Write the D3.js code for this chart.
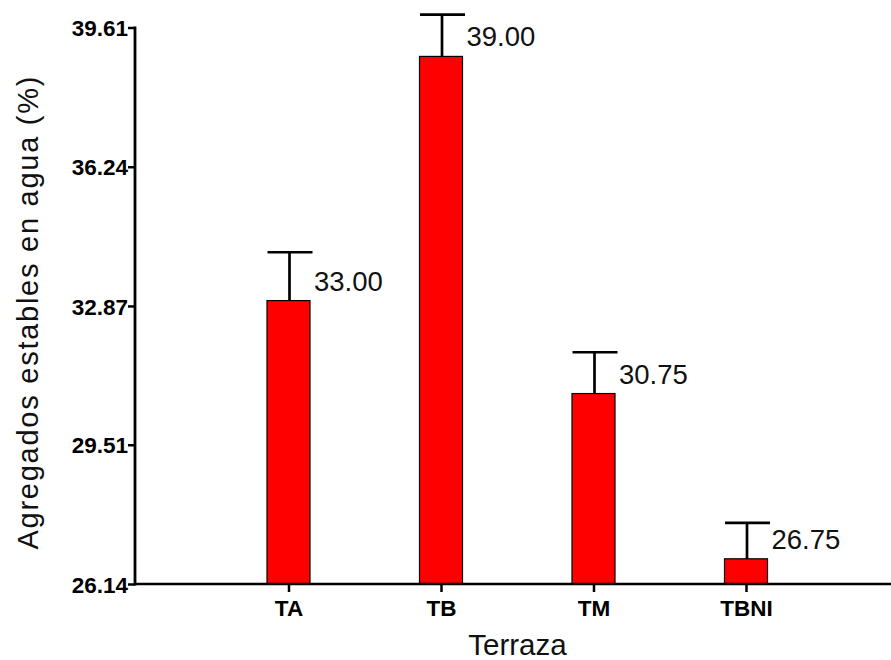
<!DOCTYPE html>
<html>
<head>
<meta charset="utf-8">
<script src="https://cdn.jsdelivr.net/npm/d3@7"></script>
<style>
  html, body { margin: 0; padding: 0; background: #fff; }
  svg { display: block; font-family: Arial, "Liberation Sans", sans-serif; }
</style>
</head>
<body>
<svg id="chart" width="891" height="660"></svg>
<script>
const categories = ["TA", "TB", "TM", "TBNI"];
const values = [33.00, 38.91, 30.75, 26.75];
const errors = [1.17, 1.01, 1.00, 0.87];
const valueLabels = ["33.00", "39.00", "30.75", "26.75"];
const yTicks = [26.14, 29.51, 32.87, 36.24, 39.61];
const yTitle = "Agregados estables en agua (%)";
const xTitle = "Terraza";

const svg = d3.select("#chart");
const xAxisLeft = 135, xAxisRight = 891;
const yBottom = 584, yTop = 27.5;
const barW = 43;

const y = d3.scaleLinear().domain([26.14, 39.61]).range([yBottom, yTop]);
const x = d3.scalePoint().domain(categories).range([288.5, 746]);

// bars
svg.selectAll("rect.bar").data(categories).join("rect")
  .attr("class", "bar")
  .attr("x", d => x(d) - barW / 2)
  .attr("width", barW)
  .attr("y", (d, i) => y(values[i]))
  .attr("height", (d, i) => yBottom - y(values[i]))
  .attr("fill", "#ff0000")
  .attr("stroke", "#000")
  .attr("stroke-width", 1.2);

// error bars
const eg = svg.append("g").attr("stroke", "#000").attr("stroke-width", 2.7);
categories.forEach((c, i) => {
  const cx = x(c) + 1;
  eg.append("line").attr("x1", cx).attr("x2", cx)
    .attr("y1", y(values[i])).attr("y2", y(values[i] + errors[i]));
  eg.append("line").attr("x1", cx - 22).attr("x2", cx + 23)
    .attr("y1", y(values[i] + errors[i])).attr("y2", y(values[i] + errors[i]));
});

// value labels
svg.selectAll("text.val").data(categories).join("text")
  .attr("class", "val")
  .attr("x", d => x(d) + barW / 2 + 4)
  .attr("y", (d, i) => y(values[i]) - 10)
  .attr("font-size", 27.5)
  .attr("fill", "#111")
  .text((d, i) => valueLabels[i]);

// y axis
const yAxis = d3.axisLeft(y).tickValues(yTicks).tickFormat(d3.format(".2f")).tickSize(7).tickSizeOuter(0);
const yg = svg.append("g").attr("transform", `translate(${xAxisLeft},0)`).call(yAxis);
yg.select(".domain").remove();
yg.selectAll(".tick line").attr("stroke", "#000").attr("stroke-width", 2.5);
yg.selectAll(".tick text").attr("font-size", 22.5).attr("font-weight", "bold")
  .attr("font-family", "Arial, 'Liberation Sans', sans-serif").attr("fill", "#000")
  .attr("x", -7).attr("dy", "0.36em");
svg.append("line").attr("x1", xAxisLeft).attr("x2", xAxisLeft)
  .attr("y1", y(39.61) - 1).attr("y2", yBottom + 1.5)
  .attr("stroke", "#000").attr("stroke-width", 2.8);

// x axis
const xAxis = d3.axisBottom(x).tickSize(8).tickSizeOuter(0);
const xg = svg.append("g").attr("transform", `translate(0,${yBottom})`).call(xAxis);
xg.select(".domain").remove();
xg.selectAll(".tick line").attr("stroke", "#000").attr("stroke-width", 2.5);
xg.selectAll(".tick text").attr("font-size", 22.5).attr("font-weight", "bold")
  .attr("font-family", "Arial, 'Liberation Sans', sans-serif").attr("fill", "#000")
  .attr("y", 16).attr("dy", "0.71em");
svg.append("line").attr("x1", xAxisLeft - 1).attr("x2", xAxisRight)
  .attr("y1", yBottom).attr("y2", yBottom)
  .attr("stroke", "#000").attr("stroke-width", 2.5);

// titles
svg.append("text")
  .attr("x", 517.5).attr("y", 655)
  .attr("text-anchor", "middle")
  .attr("font-size", 29.5)
  .attr("fill", "#111")
  .text(xTitle);

svg.append("text")
  .attr("transform", "translate(38,313) rotate(-90)")
  .attr("text-anchor", "middle")
  .attr("font-size", 29)
  .attr("textLength", 473)
  .attr("lengthAdjust", "spacing")
  .attr("fill", "#111")
  .text(yTitle);
</script>
</body>
</html>
